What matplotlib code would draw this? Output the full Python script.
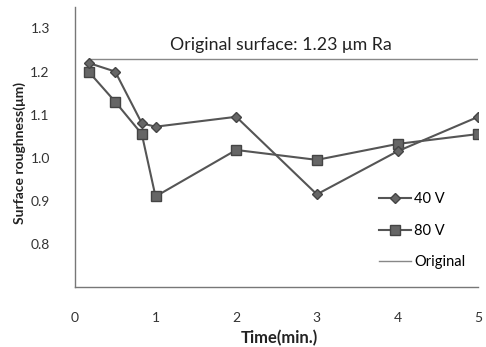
import matplotlib.pyplot as plt

# time (min) and roughness values
time_40v = [0.17, 0.5, 0.83, 1, 2, 3, 4, 5]
ra_40v = [1.22, 1.20, 1.08, 1.072, 1.095, 0.915, 1.015, 1.095]

time_80v = [0.17, 0.5, 0.83, 1, 2, 3, 4, 5]
ra_80v = [1.20, 1.13, 1.055, 0.91, 1.018, 0.995, 1.032, 1.055]

original_x = [0.17, 5]
original_ra = [1.23, 1.23]

plt.rcParams['font.family'] = ['Lato', 'DejaVu Sans']

fig = plt.figure(figsize=(4.86, 3.47), dpi=100)
ax = fig.add_axes([0.154, 0.173, 0.83, 0.807])

ax.plot(original_x, original_ra, color='#888888', lw=1.0, label='Original', zorder=1)
ax.plot(time_40v, ra_40v, color='#555555', lw=1.5, marker='D', ms=5.5,
        markerfacecolor='#666666', markeredgecolor='#444444', label='40 V', zorder=3)
ax.plot(time_80v, ra_80v, color='#555555', lw=1.5, marker='s', ms=7,
        markerfacecolor='#666666', markeredgecolor='#444444', label='80 V', zorder=2)

ax.text(2.55, 1.242, 'Original surface: 1.23 \u03bcm Ra', ha='center', va='bottom',
        fontsize=12.8, color='#222222')

ax.set_xlim(0, 5)
ax.set_ylim(0.7, 1.35)
ax.set_xticks([0, 1, 2, 3, 4, 5])
ax.set_yticks([0.8, 0.9, 1.0, 1.1, 1.2, 1.3])
ax.set_yticklabels(['0.8', '0.9', '1.0', '1.1', '1.2', '1.3'])
ax.tick_params(length=0, labelsize=10, colors='#333333', pad=18)
ax.tick_params(axis='x', pad=18)

for side in ['top', 'right']:
    ax.spines[side].set_visible(False)
for side in ['left', 'bottom']:
    ax.spines[side].set_color('#777777')
    ax.spines[side].set_linewidth(1.0)

ax.set_xlabel('Time(min.)', fontsize=12, fontweight='bold', color='#222222')
ax.xaxis.set_label_coords(0.506, -0.182)
ax.xaxis.label.set_va('center')
ax.set_ylabel('Surface roughness(\u03bcm)', fontsize=10, fontweight='bold', color='#222222')
ax.yaxis.set_label_coords(-0.136, 0.48)
ax.yaxis.label.set_va('center')

handles, labels = ax.get_legend_handles_labels()
order = [1, 2, 0]
ax.legend([handles[i] for i in order], [labels[i] for i in order],
          loc='center right', bbox_to_anchor=(1.0, 0.2), frameon=False,
          fontsize=10.5, handlelength=2.2, handletextpad=0.2, labelspacing=1.2)

fig.savefig('out.png', dpi=100)
